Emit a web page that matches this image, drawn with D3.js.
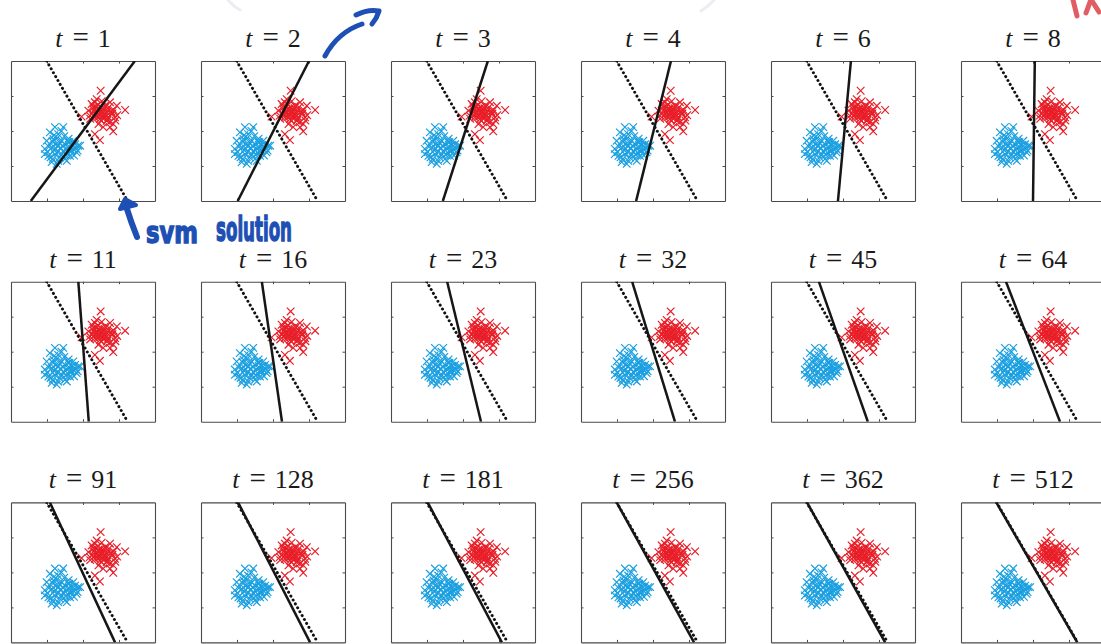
<!DOCTYPE html>
<html>
<head>
<meta charset="utf-8">
<script src="https://cdn.jsdelivr.net/npm/d3@7"></script>
<style>
  body { margin: 0; background: #fff; }
  svg { display: block; }
</style>
</head>
<body>
<svg id="chart" width="1101" height="644"></svg>
<script>
// Iteration shown in each panel
const iterations = [1, 2, 3, 4, 6, 8, 11, 16, 23, 32, 45, 64, 91, 128, 181, 256, 362, 512];

// Current separator for each iteration: x where it meets the top (y = 4) and bottom (y = 0) edges
const lineTopX    = [3.44, 3.00, 2.69, 2.50, 2.22, 2.05, 1.87, 1.69, 1.56, 1.42, 1.33, 1.25, 1.08, 1.03, 1.02, 0.99, 1.00, 0.98];
const lineBottomX = [0.55, 1.02, 1.44, 1.53, 1.86, 2.00, 2.16, 2.25, 2.50, 2.61, 2.69, 2.75, 2.89, 3.03, 3.08, 3.14, 3.17, 3.23];

// Max-margin (SVM) separator, same in every panel
const svmTopX = 0.99;
const svmBottomX = 3.24;

// Positive class (red)
const redX = [2.49, 3.17, 1.96, 2.33, 2.47, 2.84, 2.38, 2.24, 2.75, 2.94, 2.15, 2.52, 2.80, 2.33, 2.66, 2.43, 2.84, 2.56, 2.29, 2.61,
              2.89, 2.19, 2.75, 2.38, 2.47, 2.45, 2.55, 2.65, 2.35, 2.70, 2.60, 2.50, 2.42, 2.30, 2.85, 2.72, 2.58, 2.40, 2.52, 2.95,
              2.20, 2.36, 2.44, 2.62, 2.78, 2.68, 2.26, 2.50, 2.90, 2.57, 2.33, 2.64, 2.74, 2.41, 2.82, 2.46];
const redY = [3.15, 2.60, 2.41, 1.91, 1.74, 1.99, 2.91, 2.77, 2.82, 2.72, 2.58, 2.58, 2.49, 2.39, 2.29, 2.20, 2.20, 2.11, 2.68, 2.72,
              2.39, 2.44, 2.11, 2.53, 2.34, 2.62, 2.45, 2.55, 2.48, 2.40, 2.65, 2.30, 2.75, 2.60, 2.60, 2.68, 2.36, 2.40, 2.85, 2.45,
              2.35, 2.70, 2.50, 2.47, 2.56, 2.33, 2.50, 2.68, 2.30, 2.58, 2.82, 2.42, 2.25, 2.62, 2.50, 2.42];

// Negative class (blue)
const blueX = [1.22, 1.45, 1.08, 1.31, 0.99, 1.18, 1.41, 1.59, 1.73, 1.87, 0.94, 1.13, 1.31, 1.55, 1.73, 1.92, 1.04, 1.22, 1.41, 1.64,
               1.82, 1.13, 1.31, 0.94, 1.50, 1.69, 1.27, 1.25, 1.38, 1.50, 1.62, 1.20, 1.45, 1.58, 1.35, 1.15, 1.28, 1.70, 1.80, 1.10,
               1.48, 1.60, 1.05, 1.40, 1.75, 1.30, 1.55, 1.20, 1.36, 1.66, 1.85, 1.02, 1.44, 1.16, 1.52, 1.78, 1.24, 1.62];
const blueY = [2.11, 2.11, 1.96, 1.91, 1.72, 1.77, 1.72, 1.68, 1.72, 1.58, 1.49, 1.53, 1.58, 1.49, 1.49, 1.58, 1.29, 1.34, 1.34, 1.29,
               1.39, 1.11, 1.15, 1.34, 1.20, 1.44, 1.06, 1.62, 1.52, 1.62, 1.55, 1.45, 1.42, 1.38, 1.25, 1.70, 1.80, 1.60, 1.50, 1.25,
               1.85, 1.78, 1.55, 2.00, 1.30, 1.40, 1.15, 1.88, 1.66, 1.42, 1.44, 1.40, 1.56, 1.20, 1.32, 1.62, 1.50, 1.68];

const tickValues = [1, 2, 3];
const domain = [0, 4];

// ---- layout ----
const svg = d3.select("#chart");
const panelW = 144, panelH = 140;
const colX = c => 11 + c * 190;
const rowY = r => 61 + r * 220.7;

const x = d3.scaleLinear().domain(domain).range([0, panelW]);
const y = d3.scaleLinear().domain(domain).range([panelH, 0]);

const red = "#e81e28";
const blue = "#1a9fe0";
const frameColor = "#4a4a4a";
const crossPath = "M-3.8,-3.8L3.8,3.8M-3.8,3.8L3.8,-3.8";

svg.append("defs").append("clipPath").attr("id", "panel-clip")
  .append("rect").attr("width", panelW).attr("height", panelH);

const redPts = redX.map((v, i) => [v, redY[i]]);
const bluePts = blueX.map((v, i) => [v, blueY[i]]);
const line = d3.line().x(d => x(d[0])).y(d => y(d[1]));

iterations.forEach((t, i) => {
  const col = i % 6, row = Math.floor(i / 6);
  const g = svg.append("g").attr("transform", `translate(${colX(col)},${rowY(row)})`);

  // title: t = n
  const title = g.append("text")
    .attr("x", panelW / 2).attr("y", -14)
    .attr("text-anchor", "middle")
    .attr("font-family", "'Liberation Serif', 'Times New Roman', serif")
    .attr("font-size", 26)
    .attr("fill", "#1a1a1a");
  title.append("tspan").attr("font-style", "italic").text("t");
  title.append("tspan").attr("dx", 10).attr("font-size", 29).text("=");
  title.append("tspan").attr("dx", 9).text(t);

  // frame with inward ticks on all four sides
  const axes = [
    [d3.axisBottom(x), `translate(0,${panelH})`],
    [d3.axisTop(x), null],
    [d3.axisLeft(y), null],
    [d3.axisRight(y), `translate(${panelW},0)`]
  ];
  axes.forEach(([ax, tr]) => {
    const a = g.append("g")
      .call(ax.tickValues(tickValues).tickSizeInner(-2.5).tickSizeOuter(0).tickFormat(""));
    if (tr) a.attr("transform", tr);
    a.select(".domain").attr("stroke", frameColor).attr("stroke-width", 1.1);
    a.selectAll(".tick line").attr("stroke", frameColor).attr("stroke-width", 1);
  });

  const plot = g.append("g").attr("clip-path", "url(#panel-clip)");

  plot.selectAll(".blue").data(bluePts).join("path")
    .attr("d", crossPath)
    .attr("transform", d => `translate(${x(d[0])},${y(d[1])})`)
    .attr("stroke", blue).attr("stroke-width", 1.2).attr("fill", "none");

  plot.selectAll(".red").data(redPts).join("path")
    .attr("d", crossPath)
    .attr("transform", d => `translate(${x(d[0])},${y(d[1])})`)
    .attr("stroke", red).attr("stroke-width", 1.2).attr("fill", "none");

  // SVM solution (dotted)
  plot.append("path")
    .attr("d", line([[svmTopX, domain[1]], [svmBottomX, domain[0]]]))
    .attr("stroke", "#111").attr("stroke-width", 3)
    .attr("stroke-dasharray", "0.01 4.5").attr("stroke-linecap", "round")
    .attr("fill", "none");

  // current iterate (solid)
  plot.append("path")
    .attr("d", line([[lineTopX[i], domain[1]], [lineBottomX[i], domain[0]]]))
    .attr("stroke", "#161616").attr("stroke-width", 2.5)
    .attr("fill", "none");
});

// ---- hand-drawn notes ----
const ink = "#1d4fb4";
const notes = svg.append("g").attr("fill", "none").attr("stroke-linecap", "round").attr("stroke-linejoin", "round");

// faint pencil arcs along the top edge
notes.append("path").attr("d", "M228,0 Q233,6 240,10").attr("stroke", "#ececf2").attr("stroke-width", 3);
notes.append("path").attr("d", "M714,0 Q709,6 701,11").attr("stroke", "#ececf2").attr("stroke-width", 3);

// curved arrow leaving the t = 2 panel
notes.append("path").attr("d", "M325,56 Q338,32 362,24").attr("stroke", ink).attr("stroke-width", 5);
notes.append("path").attr("d", "M356,15 Q368,9 379,11 Q377,18 372,24").attr("stroke", ink).attr("stroke-width", 5);

// arrow pointing at the dotted line
notes.append("path").attr("d", "M137,237 Q131,222 126,206").attr("stroke", ink).attr("stroke-width", 6);
notes.append("path").attr("d", "M120,209 L125,199 L136,205 Z").attr("stroke", ink).attr("stroke-width", 4).attr("fill", ink);

svg.append("text")
  .attr("x", 146).attr("y", 243)
  .attr("font-family", "'DejaVu Sans', sans-serif").attr("font-weight", "bold")
  .attr("font-size", 30).attr("fill", ink)
  .attr("stroke", ink).attr("stroke-width", 1.5)
  .attr("textLength", 52).attr("lengthAdjust", "spacingAndGlyphs")
  .text("svm");
svg.append("text")
  .attr("x", 216).attr("y", 241)
  .attr("font-family", "'DejaVu Sans', sans-serif").attr("font-weight", "bold")
  .attr("font-size", 33).attr("fill", ink)
  .attr("stroke", ink).attr("stroke-width", 1.5)
  .attr("textLength", 76).attr("lengthAdjust", "spacingAndGlyphs")
  .text("solution");

// red scribble at the top right
notes.append("path").attr("d", "M1073,0 L1077,16").attr("stroke", "#d7262f").attr("stroke-width", 5).attr("opacity", 0.75);
notes.append("path").attr("d", "M1086,13 L1090,2 M1092,1 L1099,12").attr("stroke", "#d7262f").attr("stroke-width", 5).attr("opacity", 0.75);
</script>
</body>
</html>
